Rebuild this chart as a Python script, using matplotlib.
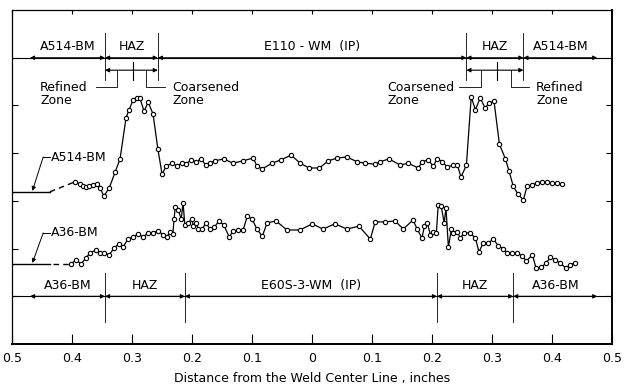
import matplotlib
matplotlib.use("Agg")
import matplotlib.pyplot as plt

# hardness traverse, x = distance from weld centre line (left side negative)
a514_x = [-0.395, -0.387, -0.382, -0.377, -0.372, -0.365, -0.358, -0.353, -0.347, -0.338,
          -0.328, -0.320, -0.310, -0.305, -0.298, -0.292, -0.287, -0.280, -0.273, -0.265,
          -0.257, -0.250, -0.243, -0.233, -0.225, -0.217, -0.210, -0.202, -0.193, -0.185,
          -0.177, -0.170, -0.162, -0.147, -0.132, -0.115, -0.098, -0.092, -0.083, -0.067,
          -0.052, -0.035, -0.020, -0.005, 0.012, 0.027, 0.042, 0.058, 0.075, 0.088,
          0.105, 0.113, 0.128, 0.147, 0.160, 0.177, 0.183, 0.193, 0.202, 0.208,
          0.217, 0.225, 0.235, 0.242, 0.248, 0.257, 0.265, 0.272, 0.280, 0.288,
          0.295, 0.303, 0.312, 0.322, 0.328, 0.335, 0.343, 0.352, 0.358, 0.367,
          0.375, 0.383, 0.392, 0.400, 0.408, 0.417]
a514_y = [3.40, 3.35, 3.31, 3.29, 3.31, 3.33, 3.35, 3.27, 3.10, 3.27,
          3.61, 3.88, 4.74, 4.91, 5.12, 5.16, 5.16, 4.88, 5.07, 4.82,
          4.09, 3.56, 3.73, 3.79, 3.73, 3.79, 3.77, 3.86, 3.82, 3.88,
          3.75, 3.79, 3.84, 3.88, 3.79, 3.84, 3.90, 3.73, 3.67, 3.79,
          3.86, 3.96, 3.79, 3.69, 3.69, 3.84, 3.90, 3.92, 3.82, 3.79,
          3.77, 3.82, 3.88, 3.75, 3.79, 3.69, 3.82, 3.86, 3.73, 3.88,
          3.82, 3.71, 3.75, 3.75, 3.50, 3.75, 5.18, 4.91, 5.16, 4.95,
          5.05, 5.09, 4.19, 3.88, 3.63, 3.31, 3.14, 3.02, 3.31, 3.33,
          3.38, 3.40, 3.40, 3.38, 3.38, 3.35]

a36_x = [-0.402, -0.393, -0.385, -0.377, -0.370, -0.360, -0.353, -0.347, -0.338, -0.330,
         -0.322, -0.315, -0.307, -0.298, -0.290, -0.282, -0.273, -0.265, -0.257, -0.248,
         -0.242, -0.237, -0.232, -0.230, -0.228, -0.223, -0.218, -0.215, -0.212, -0.207,
         -0.200, -0.198, -0.193, -0.190, -0.183, -0.177, -0.170, -0.163, -0.155, -0.147,
         -0.138, -0.132, -0.123, -0.115, -0.108, -0.100, -0.092, -0.083, -0.075, -0.060,
         -0.042, -0.020, 0.000, 0.018, 0.038, 0.058, 0.078, 0.097, 0.105, 0.122,
         0.138, 0.152, 0.168, 0.175, 0.183, 0.187, 0.192, 0.197, 0.202, 0.207,
         0.210, 0.215, 0.220, 0.223, 0.227, 0.232, 0.235, 0.242, 0.247, 0.253,
         0.263, 0.272, 0.278, 0.285, 0.293, 0.302, 0.310, 0.318, 0.325, 0.333,
         0.342, 0.350, 0.357, 0.367, 0.373, 0.382, 0.390, 0.397, 0.405, 0.413,
         0.423, 0.430, 0.438]
a36_y = [1.68, 1.76, 1.68, 1.80, 1.91, 1.97, 1.91, 1.91, 1.87, 2.01,
         2.10, 2.03, 2.20, 2.24, 2.31, 2.24, 2.33, 2.33, 2.37, 2.29,
         2.24, 2.35, 2.31, 2.62, 2.87, 2.81, 2.62, 2.96, 2.49, 2.54,
         2.62, 2.47, 2.54, 2.41, 2.41, 2.54, 2.41, 2.45, 2.58, 2.49,
         2.24, 2.37, 2.39, 2.39, 2.68, 2.62, 2.41, 2.26, 2.54, 2.58,
         2.39, 2.39, 2.52, 2.41, 2.52, 2.41, 2.47, 2.20, 2.56, 2.56,
         2.58, 2.41, 2.60, 2.41, 2.22, 2.47, 2.54, 2.29, 2.35, 2.33,
         2.91, 2.89, 2.54, 2.85, 2.03, 2.41, 2.33, 2.35, 2.22, 2.33,
         2.33, 2.22, 1.93, 2.12, 2.12, 2.20, 2.06, 2.00, 1.91, 1.91,
         1.91, 1.84, 1.74, 1.87, 1.59, 1.61, 1.70, 1.82, 1.76, 1.70,
         1.59, 1.66, 1.70]

a514_base = 3.19
a36_base = 1.68

top_bounds = [-0.47, -0.345, -0.257, 0.257, 0.352, 0.475]
top_labels = ["A514-BM", "HAZ", "E110 - WM  (IP)", "HAZ", "A514-BM"]
bot_bounds = [-0.47, -0.345, -0.212, 0.208, 0.335, 0.475]
bot_labels = ["A36-BM", "HAZ", "E60S-3-WM  (IP)", "HAZ", "A36-BM"]

xticks = [-0.5, -0.4, -0.3, -0.2, -0.1, 0, 0.1, 0.2, 0.3, 0.4, 0.5]
xticklabels = ["0.5", "0.4", "0.3", "0.2", "0.1", "0", "0.1", "0.2", "0.3", "0.4", "0.5"]

FS = 9
fig = plt.figure(figsize=(6.24, 3.87), dpi=100)
ax = fig.add_axes([0.0192, 0.111, 0.962, 0.863])
ax.set_xlim(-0.5, 0.5)
ax.set_ylim(0, 7)

# curves
mk = dict(marker="o", ms=3.1, mfc="white", mec="black", mew=0.8, color="black", lw=0.9)
ax.plot(a514_x, a514_y, **mk)
ax.plot(a36_x, a36_y, **mk)

# base metal reference lines
ax.plot([-0.5, -0.437], [a514_base, a514_base], color="black", lw=1.0)
ax.plot([-0.437, a514_x[0]], [a514_base, a514_y[0]], color="black", lw=1.0, ls=(0, (4, 3)))
ax.plot([-0.5, -0.437], [a36_base, a36_base], color="black", lw=1.0)
ax.plot([-0.432, a36_x[0]], [a36_base, a36_y[0]], color="black", lw=1.0, ls=(0, (4, 3)))

# leaders to base lines
ax.plot([-0.437, -0.448], [3.92, 3.92], color="black", lw=0.7)
ax.annotate("", xy=(-0.466, a514_base + 0.02), xytext=(-0.448, 3.92),
            arrowprops=dict(arrowstyle="-|>", lw=0.7, color="black", mutation_scale=6,
                            shrinkA=0, shrinkB=0))
ax.text(-0.435, 3.92, "A514-BM", fontsize=FS, va="center", ha="left")
ax.plot([-0.437, -0.448], [2.33, 2.33], color="black", lw=0.7)
ax.annotate("", xy=(-0.466, a36_base + 0.02), xytext=(-0.448, 2.33),
            arrowprops=dict(arrowstyle="-|>", lw=0.7, color="black", mutation_scale=6,
                            shrinkA=0, shrinkB=0))
ax.text(-0.435, 2.33, "A36-BM", fontsize=FS, va="center", ha="left")


def zone_row(bounds, labels, y, y_lo, y_hi):
    ax.axhline(y, color="black", lw=0.8)
    for i in range(len(labels)):
        ax.annotate("", xy=(bounds[i], y), xytext=(bounds[i + 1], y),
                    arrowprops=dict(arrowstyle="<|-|>", lw=0.8, color="black",
                                    mutation_scale=6, shrinkA=0, shrinkB=0))
        ax.text((bounds[i] + bounds[i + 1]) / 2, y + 0.1, labels[i], fontsize=FS,
                ha="center", va="bottom")
    for b in bounds[1:-1]:
        ax.plot([b, b], [y_lo, y_hi], color="black", lw=0.6)


zone_row(top_bounds, top_labels, 6.0, 5.53, 6.52)
zone_row(bot_bounds, bot_labels, 1.0, 0.46, 1.49)

# refined / coarsened zone sub-dimension (top)
def sub_zone(x0, x1, xmid, xl, xr, xl_end, xr_end):
    ax.annotate("", xy=(x0, 5.74), xytext=(x1, 5.74),
                arrowprops=dict(arrowstyle="<|-|>", lw=0.8, color="black",
                                mutation_scale=6, shrinkA=0, shrinkB=0))
    ax.plot([xmid, xmid], [5.53, 5.91], color="black", lw=0.8)
    ax.plot([xl, xl, xl_end], [5.74, 5.39, 5.39], color="black", lw=0.6)
    ax.plot([xr, xr, xr_end], [5.74, 5.39, 5.39], color="black", lw=0.6)


sub_zone(-0.345, -0.257, -0.298, -0.325, -0.277, -0.36, -0.245)
sub_zone(0.257, 0.352, 0.308, 0.282, 0.332, 0.245, 0.362)

zone_txt = dict(fontsize=FS, ha="left", va="top", linespacing=1.05)
ax.text(-0.453, 5.52, "Refined\nZone", **zone_txt)
ax.text(-0.233, 5.52, "Coarsened\nZone", **zone_txt)
ax.text(0.125, 5.52, "Coarsened\nZone", **zone_txt)
ax.text(0.373, 5.52, "Refined\nZone", **zone_txt)

# axes styling
ax.set_xticks(xticks)
ax.set_xticklabels(xticklabels, fontsize=FS)
ax.set_yticks(range(1, 7))
ax.set_yticklabels([])
ax.tick_params(axis="x", direction="in", length=7, width=0.8, pad=6, top=True)
ax.tick_params(axis="y", direction="in", length=4, width=0.8, right=True)
for t in ax.xaxis.get_major_ticks():
    t.tick2line.set_markersize(3)
for side in ["bottom", "right"]:
    ax.spines[side].set_linewidth(1.4)
for side in ["top", "left"]:
    ax.spines[side].set_linewidth(0.9)
ax.set_xlabel("Distance from the Weld Center Line , inches", fontsize=FS, labelpad=5)

fig.savefig("out.png", dpi=100)
